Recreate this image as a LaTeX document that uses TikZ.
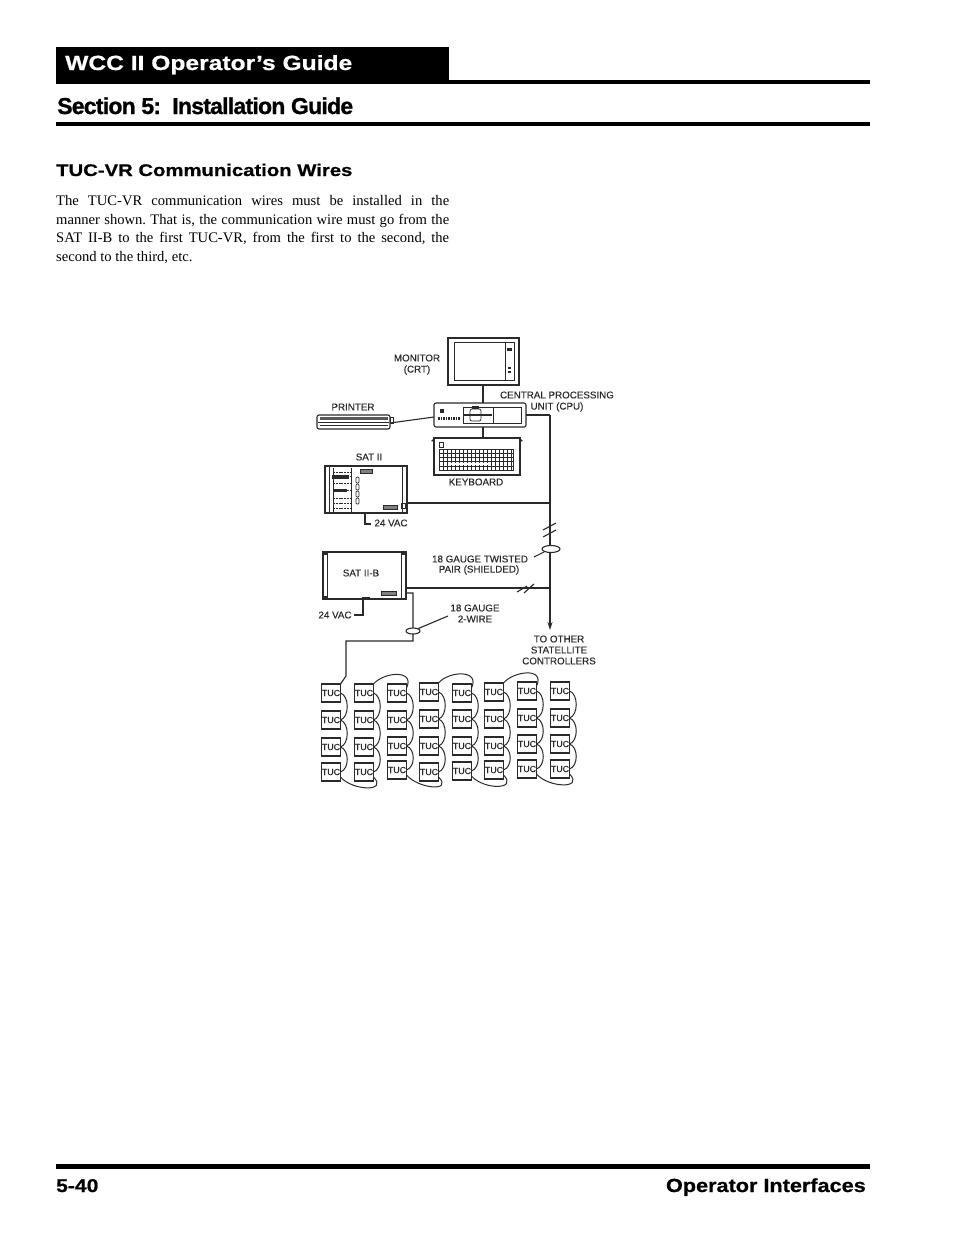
\documentclass[tikz,border=0pt]{standalone}
\usepackage{fontspec}
\setmainfont{Liberation Serif}
\newfontfamily\hdf[FakeStretch=1.2,FakeBold=0.7]{Liberation Sans Bold}
\newfontfamily\ftf[FakeStretch=1.14,FakeBold=0.7]{Liberation Sans Bold}
\newfontfamily\secf[LetterSpace=-3.3,FakeBold=1]{Liberation Sans Bold}
\newfontfamily\lbl[FakeBold=0.25]{Liberation Sans}
\usetikzlibrary{shapes.geometric,arrows.meta,calc}
\definecolor{ink}{HTML}{2A2A2A}
\tikzset{
 unit/.style={draw=ink,line width=1.1pt,rectangle,inner sep=0pt,outer sep=0pt,anchor=north west},
 wire/.style={draw=ink,line width=1.1pt},
 thin part/.style={draw=ink,line width=.7pt},
 lab/.style={font=\lbl\fontsize{9.8}{11}\selectfont,text=ink,inner sep=0pt,anchor=center},
 tuc/.style={draw=ink,line width=1.2pt,rectangle,inner sep=0pt,outer sep=0pt,minimum width=19pt,minimum height=18pt,font=\lbl\fontsize{8.8}{9}\selectfont,text=ink},
 band/.style={fill=black,draw=none},
 loopcable/.style={draw=ink,line width=1pt}
}
\newcommand{\hop}[2]{\draw[loopcable] (#1.east) .. controls ($(#1.east)+(9,3)$) and ($(#2.east)+(9,-3)$) .. (#2.east);}
\newcommand{\overtop}[2]{\draw[loopcable] (#1.north east) .. controls ($(#1.north east)+(10,-12)$) and ($(#2.north east)+(9,-15)$) .. ($(#2.east)+(0,-5)$);}
\newcommand{\under}[2]{\draw[loopcable] ($(#1.east)+(0,5)$) .. controls ($(#1.south east)+(12,10)$) and ($(#2.south east)+(15,11)$) .. ($(#2.east)+(0,5)$);}
\begin{document}
\begin{tikzpicture}[x=1pt,y=-1pt]
\useasboundingbox (0,0) rectangle (954,1235);
\fill[white] (0,0) rectangle (954,1235);
% header
\path[band,fill=black] (56,47) rectangle (449,84);
\path[band,fill=black] (449,80) rectangle (870,84);
\path[band,fill=black] (56,122) rectangle (870,126);
\path[band,fill=black] (56,1164) rectangle (870,1169);
\node[anchor=base west,inner sep=0pt,text=white,font=\hdf\fontsize{20.5}{22}\selectfont] (title) at (65,70) {WCC II Operator’s Guide};
\node[anchor=base west,inner sep=0pt,font=\secf\fontsize{23}{24}\selectfont] (section) at (57,114) {Section 5:\ \ Installation Guide};
\node[anchor=base west,inner sep=0pt,font=\hdf\fontsize{16.9}{19}\selectfont] (subhead) at (56,176) {TUC-VR Communication Wires};
\node[anchor=north west,inner sep=0pt,text width=393pt,align=justify,font=\fontsize{14.6}{18.7}\selectfont\frenchspacing] (body) at (56,195) {The TUC-VR communication wires must be installed in the\linebreak manner shown. That is, the communication wire must go from the\linebreak SAT II-B to the first TUC-VR, from the first to the second, the\linebreak second to the third, etc.};
\node[anchor=base west,inner sep=0pt,font=\ftf\fontsize{18.5}{19}\selectfont] (pageno) at (56,1192) {5-40};
\node[anchor=base east,inner sep=0pt,font=\ftf\fontsize{19}{19}\selectfont] (footer) at (866,1192) {Operator Interfaces};
% units
\node[unit,minimum width=71pt,minimum height=47pt] (monitor) at (448,338) {};
\node[unit,minimum width=92pt,minimum height=24pt,rounded corners=2pt] (cpu) at (434,403) {};
\node[unit,minimum width=86pt,minimum height=37pt] (keyboard) at (434,438) {};
\node[unit,minimum width=73pt,minimum height=14pt,rounded corners=2pt] (printer) at (317,415) {};
\node[unit,minimum width=82pt,minimum height=47pt] (satii) at (325,466) {};
\node[unit,minimum width=83pt,minimum height=47pt] (satb) at (323,552) {};
% monitor details
\draw[thin part,line width=1pt] (454,342) rectangle (514,380);
\draw[thin part] (505,342) -- (505,380);
\fill[ink] (507,348) rectangle (512,351);
\fill[ink] (508,367) rectangle (511,369);
\fill[ink] (508,371) rectangle (511,373);
% cpu details
\draw[thin part] (463,407) rectangle (521,423);
\draw[thin part] (493,407) -- (493,423);
\draw[wire] (464,415) -- (492,415);
\draw[thin part,rounded corners=2pt] (470,409) rectangle (481,421);
\fill[ink] (472,406) rectangle (479,409);
\fill[ink] (440,409) rectangle (444,413);
\draw[ink,line width=3pt,dash pattern=on 1.5pt off 1pt] (438,418) -- (460,418);
% keyboard details
\fill[ink] (434,438) -- (431,441) -- (435,442) -- cycle;
\fill[ink] (520,438) -- (523,441) -- (519,442) -- cycle;
\draw[thin part] (439,442) rectangle (443,447);
\draw[thin part,line width=1pt] (439,449) rectangle (513,470);
\foreach \yy in {453,457,461,466} \draw[thin part,line width=.9pt] (439,\yy) -- (513,\yy);
\foreach \xx in {443,447,...,511} \draw[ink,line width=.7pt] (\xx,449) -- (\xx,470);
\fill[white] (451,462.5) rectangle (490,465);
% printer details
\fill[gray!70!black] (320,417) rectangle (388,420);
\draw[thin part] (318,422) -- (389,422);
\draw[thin part] (320,425) -- (388,425);
\draw[thin part] (390,417) rectangle (393,423);
% SAT II details
\draw[thin part] (329,467) -- (329,512);
\draw[thin part] (402,467) -- (402,512);
\draw[thin part] (333,468) -- (333,512) (351,468) -- (351,512);
\foreach \yy in {472,476,483,490,498,503,508} \draw[thin part,dash pattern=on 2pt off .8pt] (333,\yy) -- (351,\yy);
\fill[ink] (332,475) rectangle (349,479);
\fill[ink] (334,489) rectangle (347,492);
\foreach \yy in {477,484,491,498} \draw[thin part,rounded corners=1pt] (356,\yy) rectangle (359,\yy+6);
\draw[thin part,fill=gray] (360,469) rectangle (372,473);
\draw[thin part,fill=gray] (383,505) rectangle (397,509);
\draw[thin part] (401,503) rectangle (405,508);
% SAT II-B details
\draw[thin part] (327,553) -- (327,598);
\draw[thin part] (401,553) -- (401,598);
\fill[ink] (323,552) rectangle (327,555);
\fill[ink] (323,596) rectangle (327,599);
\fill[ink] (401,552) rectangle (406,555);
\draw[thin part,fill=gray] (381,591) rectangle (396,595);
\fill[ink] (362,597) rectangle (370,599);
% labels
\node[lab] (lmon) at (417,358) {MONITOR};
\node[lab] (lcrt) at (417,370) {(CRT)};
\node[lab] (lcpu) at (557,395) {CENTRAL PROCESSING};
\node[lab] (lcpu2) at (557,407) {UNIT (CPU)};
\node[lab] (lprn) at (353,407) {PRINTER};
\node[lab] (lsat) at (369,457) {SAT II};
\node[lab] (lkbd) at (476,482) {KEYBOARD};
\node[lab] (lv1) at (391,523) {24 VAC};
\node[lab] (lsb) at (361,573) {SAT II-B};
\node[lab] (lv2) at (335,615) {24 VAC};
\node[lab] (lg1) at (480,559) {18 GAUGE TWISTED};
\node[lab] (lg2) at (479,570) {PAIR (SHIELDED)};
\node[lab] (lw1) at (475,608) {18 GAUGE};
\node[lab] (lw2) at (475,619) {2-WIRE};
\node[lab] (lo1) at (559,639) {TO OTHER};
\node[lab] (lo2) at (559,650) {STATELLITE};
\node[lab] (lo3) at (559,661) {CONTROLLERS};
% main wires
\coordinate (busTop) at (550,415);
\coordinate (busEnd) at (550,630);
\coordinate (satPort) at (407,503);
\coordinate (bPort) at (406,588);
\coordinate (bOut) at (406,593);
\draw[wire] (monitor.south -| 483,0) -- (cpu.north -| 483,0);
\draw[wire] (cpu.south -| 483,0) -- (keyboard.north -| 483,0);
\draw[wire] (printer.east |- 0,423) -- (cpu.west |- 0,417);
\draw[wire] (cpu.east) -- (busTop);
\draw[wire,-{Stealth[length=8pt,width=5pt]}] (busTop) -- (busEnd);
\draw[wire] (satPort) -- (satPort -| busTop);
\draw[wire] (bPort) -- (bPort -| busTop);
% slashes
\draw[wire] (543,530) -- (556,523);
\draw[wire] (543,537) -- (556,530);
\draw[wire] (517,592) -- (527,586);
\draw[wire] (524,593) -- (534,584);
% ellipses and leaders
\node[draw=ink,line width=1.1pt,ellipse,fill=white,minimum width=18pt,minimum height=7pt,inner sep=0pt] (twist) at (551,549) {};
\coordinate (twistLead) at (534,557);
\draw[wire] (twist.south west) -- (twistLead);
% 24 VAC
\coordinate (v1a) at (365,513);
\coordinate (v1b) at (371,524);
\draw[wire] (v1a) -- (v1a |- v1b) -- (v1b);
\coordinate (v2a) at (363,598);
\coordinate (v2b) at (354,615);
\draw[wire] (v2a) -- (v2a |- v2b) -- (v2b);
% TUC array
\foreach \c/\x/\ya/\yb/\yc/\yd in {1/331/693/720/747/772,2/364/693/720/747/772,3/397/693/720/746/770,4/429/692/719/746/772,5/462/693/719/746/771,6/494/692/719/746/770,7/527/691/718/744/769,8/560/691/718/744/769}{
 \node[tuc] (t\c-1) at (\x,\ya) {TUC};
 \node[tuc] (t\c-2) at (\x,\yb) {TUC};
 \node[tuc] (t\c-3) at (\x,\yc) {TUC};
 \node[tuc] (t\c-4) at (\x,\yd) {TUC};
 \hop{t\c-1}{t\c-2}
 \hop{t\c-2}{t\c-3}
 \hop{t\c-3}{t\c-4}
}
\overtop{t2-1}{t3-1}
\overtop{t4-1}{t5-1}
\overtop{t6-1}{t7-1}
\under{t1-4}{t2-4}
\under{t3-4}{t4-4}
\under{t5-4}{t6-4}
\under{t7-4}{t8-4}
% two-wire
\coordinate (feedA) at (413,593);
\coordinate (feedB) at (413,641);
\coordinate (feedC) at (346,641);
\coordinate (feedD) at (346,676);
\draw[wire] (bOut) -- (feedA) -- (feedB) -- (feedC) -- (feedD) -- (t1-1.north east);
\node[draw=ink,line width=1.1pt,ellipse,fill=white,minimum width=14pt,minimum height=6pt,inner sep=0pt] (two) at (413,631) {};
\coordinate (twoLead) at (448,616);
\draw[wire] (two.north east) -- (twoLead);
\end{tikzpicture}
\end{document}
